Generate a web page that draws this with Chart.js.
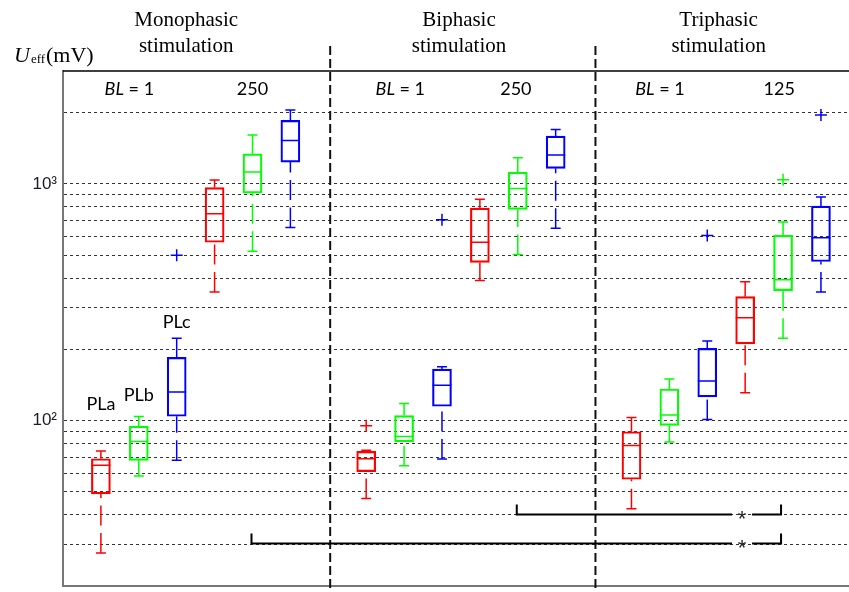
<!DOCTYPE html>
<html>
<head>
<meta charset="utf-8">
<script src="https://cdn.jsdelivr.net/npm/chart.js@4.4.1/dist/chart.umd.min.js"></script>
<style>
  html, body { margin: 0; padding: 0; background: #fff; overflow: hidden; }
</style>
</head>
<body>
<canvas id="boxChart" width="849" height="592"></canvas>
<script>
// DATA
const stimulations = ['Monophasic', 'Biphasic', 'Triphasic'];
const burstLabels = ['1', '250', '1', '250', '1', '125'];
const electrodes = ['PLa', 'PLb', 'PLc'];

// [lower whisker, Q1, median, Q3, upper whisker] for each condition:
// mono BL1, mono BL250, bi BL1, bi BL250, tri BL1, tri BL125
const statsPLa = [
    [27.6, 49, 64.7, 69, 74.3],
    [349, 567, 748, 965, 1039],
    [46.9, 60.9, 69, 74.1, 75],
    [391, 466, 567, 790, 862],
    [42.4, 56.5, 78.5, 89.7, 103],
    [131, 211, 272, 334, 386]
];
const statsPLb = [
    [58.3, 67.9, 81.6, 94.6, 104],
    [520, 914, 1123, 1340, 1611],
    [64.5, 81.4, 85.7, 105, 118],
    [503, 780, 956, 1120, 1290],
    [81.1, 95.5, 105.7, 136, 150],
    [223, 354, 394, 607, 690]
];
const statsPLc = [
    [67.9, 104.3, 132, 185, 223],
    [655, 1237, 1526, 1857, 2052],
    [68.8, 115, 141, 165, 169],
    [649, 1164, 1324, 1591, 1698],
    [101, 126, 147, 202, 217],
    [349, 470, 593, 806, 880]
];

// outliers: [condition index, value]
const outPLa = [[2, 95]];
const outPLb = [[5, 1042]];
const outPLc = [[0, 500], [2, 706], [4, 605], [5, 1955]];

const yTicks = [30, 40, 50, 60, 70, 80, 90, 100, 200, 300, 400, 500, 600, 700, 800, 900, 1000, 2000];

// significant PLb comparisons: [condition a, condition b]
const sigPairs = [[3, 5], [1, 5]];

const colors = ['#ff0000', '#00ff00', '#0000ff'];
const allStats = [statsPLa, statsPLb, statsPLc];
const allOut = [outPLa, outPLb, outPLc];

// x position of a box: three per burst length, gap between stimulation types
const slotX = (i, k) => 1 + 3 * i + Math.floor(i / 2) + k;

// WHISKERS + MEDIANS
const whiskers = {
    id: 'whiskers',
    afterDatasetsDraw(chart) {
        const {ctx, scales: {x, y}} = chart;
        ctx.save();
        ctx.lineWidth = 1.5;
        allStats.forEach((stats, k) => {
            ctx.strokeStyle = colors[k];
            stats.forEach(([lo, q1, med, q3, hi], i) => {
                const cx = x.getPixelForValue(slotX(i, k));
                const yLo = y.getPixelForValue(lo), yQ1 = y.getPixelForValue(q1);
                const yMed = y.getPixelForValue(med), yQ3 = y.getPixelForValue(q3);
                const yHi = y.getPixelForValue(hi);
                ctx.setLineDash([]);
                ctx.beginPath();
                ctx.moveTo(cx - 9.5, yMed); ctx.lineTo(cx + 9.5, yMed);
                ctx.moveTo(cx - 5, yLo); ctx.lineTo(cx + 5, yLo);
                ctx.moveTo(cx - 5, yHi); ctx.lineTo(cx + 5, yHi);
                ctx.stroke();
                ctx.setLineDash([20, 7.5]);
                ctx.beginPath(); ctx.moveTo(cx, yLo); ctx.lineTo(cx, yQ1); ctx.stroke();
                ctx.beginPath(); ctx.moveTo(cx, yHi); ctx.lineTo(cx, yQ3); ctx.stroke();
            });
        });
        ctx.restore();
    }
};

// TEXT, FRAME, SEPARATORS, BRACKETS
const annotate = {
    id: 'annotate',
    afterDraw(chart) {
        const {ctx, chartArea: area, scales: {x, y}} = chart;
        ctx.save();
        // top frame line
        ctx.strokeStyle = '#000';
        ctx.lineWidth = 1.5;
        ctx.beginPath(); ctx.moveTo(area.left, area.top); ctx.lineTo(area.right, area.top); ctx.stroke();

        // separators
        ctx.lineWidth = 2;
        ctx.strokeStyle = '#111';
        ctx.setLineDash([9, 4]);
        [7.05, 14.05].forEach(v => {
            const px = x.getPixelForValue(v);
            ctx.beginPath(); ctx.moveTo(px, 46); ctx.lineTo(px, chart.height); ctx.stroke();
        });
        ctx.setLineDash([]);

        // significance brackets
        const levels = [40, 30];
        ctx.lineWidth = 2;
        ctx.strokeStyle = '#000';
        ctx.fillStyle = '#222';
        ctx.font = '22px "Liberation Sans"';
        ctx.textAlign = 'center';
        ctx.textBaseline = 'middle';
        sigPairs.forEach(([a, b], j) => {
            const x1 = x.getPixelForValue(slotX(a, 1)) - 1;
            const x2 = x.getPixelForValue(slotX(b, 1)) - 2;
            const py = Math.round(y.getPixelForValue(levels[j])) - 0.5;
            const sx = x2 - 39;
            ctx.beginPath();
            ctx.moveTo(x1, py - 10); ctx.lineTo(x1, py); ctx.lineTo(sx - 10, py);
            ctx.moveTo(sx + 10, py); ctx.lineTo(x2, py); ctx.lineTo(x2, py - 10);
            ctx.stroke();
            ctx.fillText('*', sx, py + 5);
        });

        // stimulation titles
        ctx.fillStyle = '#000';
        ctx.textBaseline = 'alphabetic';
        ctx.font = '21px "Liberation Serif"';
        const titleX = [3.25, 10.45, 17.3];
        stimulations.forEach((s, i) => {
            const px = x.getPixelForValue(titleX[i]);
            ctx.fillText(s, px, 26);
            ctx.fillText('stimulation', px, 52);
        });

        // axis title U_eff (mV)
        ctx.textAlign = 'left';
        ctx.font = 'italic 22px "Liberation Serif"';
        ctx.fillText('U', 14, 62);
        ctx.font = '13px "Liberation Serif"';
        ctx.fillText('eff', 31, 63);
        ctx.font = '22px "Liberation Serif"';
        ctx.fillText('(mV)', 46, 62);

        // burst length labels
        const blX = [1.75, 5.0, 8.9, 11.95, 15.75, 18.9];
        burstLabels.forEach((t, i) => {
            const px = x.getPixelForValue(blX[i]);
            if (i % 2 === 0) {
                ctx.font = 'italic 18px Lato';
                const w1 = ctx.measureText('BL').width;
                ctx.font = '18px Lato';
                const w2 = ctx.measureText(' = ' + t).width;
                const left = px - (w1 + w2) / 2;
                ctx.textAlign = 'left';
                ctx.font = 'italic 18px Lato';
                ctx.fillText('BL', left, 95);
                ctx.font = '18px Lato';
                ctx.fillText(' = ' + t, left + w1, 95);
            } else {
                ctx.textAlign = 'center';
                ctx.font = '18px Lato';
                ctx.fillText(t, px, 95);
            }
        });

        // electrode labels
        ctx.textAlign = 'center';
        ctx.font = '18px Lato';
        const plY = [110.5, 120.5, 245];
        electrodes.forEach((e, k) => {
            ctx.fillText(e, x.getPixelForValue(slotX(0, k)), y.getPixelForValue(plY[k]));
        });
        ctx.restore();
    }
};

const boxSets = allStats.map((stats, k) => ({
    type: 'bar',
    label: electrodes[k],
    data: stats.map((s, i) => ({x: slotX(i, k), y: [s[1], s[3]]})),
    backgroundColor: 'rgba(0,0,0,0)',
    borderColor: colors[k],
    borderWidth: 1.5,
    borderSkipped: false,
    barThickness: 19,
    grouped: false,
}));

const outlierSets = allOut.map((outs, k) => ({
    type: 'scatter',
    label: electrodes[k] + ' outliers',
    data: outs.map(o => ({x: slotX(o[0], k), y: o[1]})),
    pointStyle: 'cross',
    pointRadius: 6,
    pointBorderWidth: 1.5,
    borderColor: colors[k],
    backgroundColor: colors[k],
}));

new Chart(document.getElementById('boxChart'), {
    type: 'bar',
    data: { datasets: [...boxSets, ...outlierSets] },
    options: {
        responsive: false,
        animation: false,
        events: [],
        layout: { autoPadding: false, padding: { top: 71, right: 0, bottom: 0, left: 0 } },
        scales: {
            x: {
                type: 'linear',
                min: 0,
                max: 20.74,
                offset: false,
                grid: { display: false, drawTicks: false, offset: false },
                ticks: { display: false },
                border: { display: true, color: '#777', width: 2 },
                afterFit: axis => { axis.height = 6; },
            },
            y: {
                type: 'logarithmic',
                min: 20,
                max: 3000,
                afterBuildTicks: axis => { axis.ticks = yTicks.map(v => ({value: v})); },
                afterFit: axis => { axis.width = 63; axis.paddingTop = 0; axis.paddingBottom = 0; },
                ticks: {
                    autoSkip: false,
                    padding: 6,
                    color: '#1a1a2a',
                    font: { family: 'Liberation Sans', size: 17 },
                    callback: v => v === 100 ? '10²' : v === 1000 ? '10³' : '',
                },
                grid: { color: '#333', lineWidth: 1, drawTicks: false },
                border: { display: true, color: '#777', width: 2, dash: [3, 3] },
            },
        },
        plugins: {
            legend: { display: false },
            tooltip: { enabled: false },
        },
    },
    plugins: [whiskers, annotate],
});
</script>
</body>
</html>
